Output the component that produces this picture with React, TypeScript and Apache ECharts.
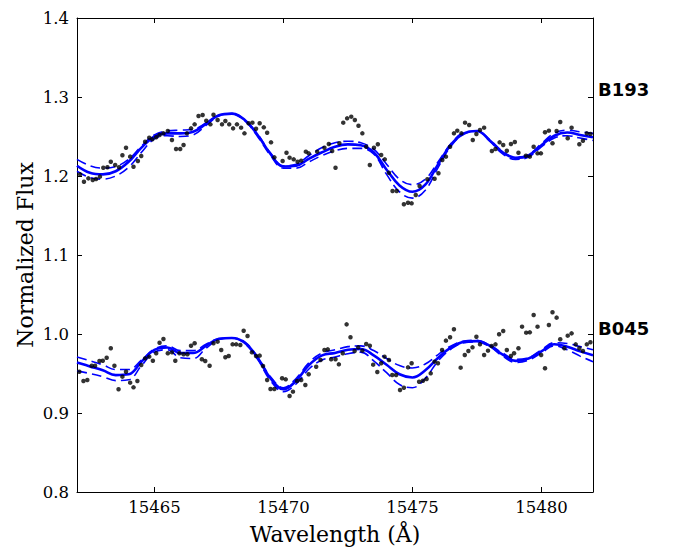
import React, { useEffect, useRef } from "react";
import * as echarts from "echarts";

// Wavelength grid of the model curves (Å)
const modelWave = [
  15462.0, 15462.5, 15463.0, 15463.5, 15464.0, 15464.5, 15465.0, 15465.5, 15466.0, 15466.5,
  15467.0, 15467.5, 15468.0, 15468.5, 15469.0, 15469.5, 15470.0, 15470.5, 15471.0, 15471.5,
  15472.0, 15472.5, 15473.0, 15473.5, 15474.0, 15474.5, 15475.0, 15475.5, 15476.0, 15476.5,
  15477.0, 15477.5, 15478.0, 15478.5, 15479.0, 15479.5, 15480.0, 15480.5, 15481.0, 15481.5,
  15482.0,
];

// B193 models
const b193Best = [
  1.213, 1.204, 1.202, 1.206, 1.218, 1.236, 1.25, 1.254, 1.254, 1.256,
  1.266, 1.277, 1.279, 1.271, 1.252, 1.228, 1.212, 1.213, 1.222, 1.23,
  1.237, 1.24, 1.239, 1.23, 1.208, 1.188, 1.18, 1.189, 1.215, 1.24,
  1.254, 1.257, 1.245, 1.23, 1.223, 1.226, 1.239, 1.251, 1.255, 1.252,
  1.249,
];
const b193Shallow = [
  1.221, 1.213, 1.21, 1.212, 1.221, 1.238, 1.252, 1.257, 1.258, 1.259,
  1.267, 1.277, 1.279, 1.271, 1.253, 1.229, 1.213, 1.215, 1.226, 1.236,
  1.242, 1.244, 1.242, 1.234, 1.215, 1.196, 1.189, 1.196, 1.218, 1.241,
  1.255, 1.257, 1.246, 1.231, 1.224, 1.227, 1.241, 1.254, 1.258, 1.256,
  1.254,
];
const b193Deep = [
  1.206, 1.198, 1.196, 1.2, 1.211, 1.23, 1.247, 1.251, 1.25, 1.252,
  1.264, 1.276, 1.279, 1.27, 1.25, 1.226, 1.21, 1.21, 1.218, 1.226,
  1.232, 1.235, 1.235, 1.228, 1.202, 1.18, 1.172, 1.182, 1.211, 1.238,
  1.253, 1.257, 1.244, 1.228, 1.221, 1.224, 1.237, 1.248, 1.251, 1.248,
  1.245,
];

// B045 models
const b045Best = [
  0.964, 0.959, 0.954, 0.948, 0.949, 0.965, 0.98, 0.983, 0.976, 0.976,
  0.985, 0.994, 0.995, 0.989, 0.97, 0.944, 0.93, 0.941, 0.961, 0.973,
  0.976, 0.98, 0.981, 0.973, 0.961, 0.949, 0.945, 0.954, 0.97, 0.983,
  0.99, 0.991, 0.985, 0.974, 0.966, 0.969, 0.978, 0.987, 0.984, 0.978,
  0.973,
];
const b045Shallow = [
  0.971, 0.966, 0.961, 0.955, 0.955, 0.967, 0.981, 0.985, 0.979, 0.979,
  0.987, 0.994, 0.995, 0.99, 0.971, 0.946, 0.932, 0.944, 0.964, 0.976,
  0.98, 0.984, 0.985, 0.979, 0.969, 0.96, 0.957, 0.962, 0.974, 0.985,
  0.991, 0.992, 0.986, 0.976, 0.968, 0.97, 0.98, 0.989, 0.988, 0.984,
  0.98,
];
const b045Deep = [
  0.953, 0.95, 0.946, 0.941, 0.942, 0.96, 0.977, 0.98, 0.97, 0.969,
  0.982, 0.993, 0.995, 0.988, 0.968, 0.941, 0.927, 0.937, 0.956, 0.967,
  0.971, 0.975, 0.977, 0.966, 0.951, 0.936, 0.932, 0.944, 0.966, 0.981,
  0.989, 0.99, 0.984, 0.972, 0.964, 0.967, 0.976, 0.985, 0.98, 0.972,
  0.965,
];

// Observed spectra: [wavelength, flux]
const b193Obs: [number, number][] = [
  [15462.12, 1.2021], [15462.27, 1.1928], [15462.44, 1.197], [15462.61, 1.195], [15462.74, 1.1962],
  [15462.89, 1.1992], [15463.02, 1.2105], [15463.18, 1.211], [15463.31, 1.2181], [15463.48, 1.2139],
  [15463.63, 1.211], [15463.76, 1.2262], [15463.9, 1.2358], [15464.06, 1.2245], [15464.19, 1.2118],
  [15464.36, 1.219], [15464.49, 1.2253], [15464.64, 1.2434], [15464.8, 1.2485], [15464.92, 1.2464],
  [15465.07, 1.249], [15465.2, 1.2519], [15465.35, 1.254], [15465.52, 1.257], [15465.68, 1.2456],
  [15465.84, 1.2342], [15466.0, 1.2342], [15466.13, 1.2392], [15466.26, 1.254], [15466.42, 1.2603],
  [15466.56, 1.2654], [15466.71, 1.2759], [15466.87, 1.2772], [15467.01, 1.27], [15467.17, 1.2654],
  [15467.29, 1.2776], [15467.45, 1.2709], [15467.62, 1.2654], [15467.75, 1.2696], [15467.9, 1.2654],
  [15468.05, 1.2603], [15468.2, 1.2654], [15468.36, 1.2612], [15468.49, 1.254], [15468.65, 1.2667],
  [15468.8, 1.2675], [15468.94, 1.2599], [15469.08, 1.2667], [15469.24, 1.2616], [15469.37, 1.2548],
  [15469.52, 1.2426], [15469.65, 1.2236], [15469.97, 1.219], [15470.12, 1.2295], [15470.24, 1.2232],
  [15470.4, 1.2211], [15470.55, 1.2181], [15470.69, 1.2194], [15470.87, 1.2308], [15470.98, 1.2287],
  [15471.31, 1.2308], [15471.59, 1.2358], [15471.76, 1.2405], [15471.89, 1.2316], [15472.02, 1.2105],
  [15472.17, 1.2414], [15472.32, 1.2675], [15472.47, 1.273], [15472.63, 1.2751], [15472.77, 1.2709],
  [15472.91, 1.2637], [15473.06, 1.254], [15473.21, 1.2371], [15473.35, 1.2139], [15473.51, 1.2358],
  [15473.66, 1.2401], [15473.79, 1.2266], [15473.93, 1.2211], [15474.09, 1.2042], [15474.23, 1.181],
  [15474.39, 1.181], [15474.67, 1.1642], [15474.83, 1.1662], [15474.97, 1.1654], [15475.13, 1.176],
  [15475.28, 1.1873], [15475.58, 1.1958], [15475.86, 1.1966], [15476.01, 1.2034], [15476.16, 1.2203],
  [15476.3, 1.2245], [15476.46, 1.2371], [15476.61, 1.254], [15476.74, 1.2574], [15476.9, 1.254],
  [15477.04, 1.2675], [15477.2, 1.2646], [15477.34, 1.2456], [15477.48, 1.2532], [15477.62, 1.2582],
  [15477.78, 1.2612], [15478.08, 1.2316], [15478.22, 1.2342], [15478.38, 1.2426], [15478.52, 1.2392],
  [15478.66, 1.232], [15478.82, 1.2405], [15478.97, 1.243], [15479.11, 1.2295], [15479.4, 1.2257],
  [15479.55, 1.2245], [15479.7, 1.2371], [15479.85, 1.2287], [15479.98, 1.2287], [15480.14, 1.2553],
  [15480.29, 1.2574], [15480.43, 1.2414], [15480.59, 1.257], [15480.73, 1.2684], [15481.02, 1.2477],
  [15481.17, 1.2612], [15481.47, 1.2401], [15481.61, 1.2447], [15481.76, 1.254], [15481.9, 1.2532],
];

const b045Obs: [number, number][] = [
  [15462.09, 0.9523], [15462.25, 0.9405], [15462.4, 0.9418], [15462.57, 0.9599], [15462.7, 0.9599],
  [15462.87, 0.9658], [15463.0, 0.9662], [15463.15, 0.97], [15463.31, 0.9819], [15463.45, 0.9599],
  [15463.61, 0.93], [15463.76, 0.946], [15463.9, 0.9523], [15464.06, 0.9384], [15464.19, 0.9325],
  [15464.34, 0.9405], [15464.49, 0.9608], [15464.64, 0.9692], [15464.8, 0.9713], [15464.94, 0.9662],
  [15465.07, 0.9756], [15465.2, 0.989], [15465.35, 0.9937], [15465.52, 0.9756], [15465.68, 0.9768],
  [15465.81, 0.9662], [15465.97, 0.9756], [15466.13, 0.9743], [15466.28, 0.9743], [15466.42, 0.9852],
  [15466.56, 0.9882], [15466.84, 0.968], [15466.97, 0.9658], [15467.14, 0.9599], [15467.29, 0.9882],
  [15467.45, 0.9903], [15467.59, 0.9797], [15467.75, 0.9705], [15467.88, 0.9722], [15468.03, 0.9869],
  [15468.17, 0.9869], [15468.33, 0.9861], [15468.46, 1.0042], [15468.61, 0.9975], [15468.78, 0.9768],
  [15468.94, 0.9722], [15469.08, 0.9726], [15469.21, 0.9595], [15469.37, 0.9418], [15469.5, 0.9304],
  [15469.65, 0.9304], [15469.95, 0.9439], [15470.09, 0.9426], [15470.24, 0.9215], [15470.37, 0.927],
  [15470.53, 0.9405], [15470.69, 0.9418], [15470.85, 0.9354], [15470.98, 0.949], [15471.27, 0.9586],
  [15471.44, 0.9671], [15471.59, 0.9797], [15471.72, 0.9806], [15471.85, 0.968], [15472.02, 0.968],
  [15472.15, 0.9616], [15472.3, 0.9756], [15472.45, 1.0122], [15472.6, 0.9958], [15472.76, 0.9785],
  [15472.9, 0.9831], [15473.06, 0.9789], [15473.21, 0.9873], [15473.35, 0.9852], [15473.48, 0.9612],
  [15473.64, 0.9519], [15473.79, 0.9629], [15473.92, 0.9713], [15474.09, 0.9671], [15474.22, 0.9481],
  [15474.37, 0.9481], [15474.52, 0.9291], [15474.67, 0.932], [15474.83, 0.9578], [15474.97, 0.9629],
  [15475.26, 0.9396], [15475.41, 0.9409], [15475.55, 0.943], [15475.71, 0.9502], [15475.86, 0.965],
  [15475.99, 0.9629], [15476.15, 0.9797], [15476.3, 0.9916], [15476.46, 0.9958], [15476.61, 1.006],
  [15476.87, 0.9574], [15477.03, 0.9734], [15477.17, 0.9785], [15477.33, 0.9831], [15477.48, 0.9966],
  [15477.62, 0.9869], [15477.78, 0.9734], [15477.93, 0.9789], [15478.07, 0.9848], [15478.22, 0.9869],
  [15478.36, 0.9996], [15478.52, 1.0038], [15478.66, 0.9797], [15478.82, 0.9722], [15478.94, 0.9756],
  [15479.11, 0.9819], [15479.25, 1.0093], [15479.41, 1.0017], [15479.55, 1.0021], [15479.7, 1.0241],
  [15479.85, 1.0093], [15479.99, 0.9734], [15480.14, 0.9566], [15480.29, 1.0114], [15480.43, 1.0275],
  [15480.59, 1.0207], [15480.73, 0.9933], [15480.89, 0.9819], [15481.02, 0.9979], [15481.17, 1.0008],
  [15481.33, 0.9869], [15481.47, 0.9819], [15481.61, 0.9785], [15481.76, 0.9869], [15481.9, 0.9895],
];

const xTicks = [15465, 15470, 15475, 15480];
const starLabels = ["B193", "B045"];

const SERIF = "DejaVu Serif";
const BLUE = "#0000ff";

function zip(xs: number[], ys: number[]) {
  return xs.map((x, i) => [x, ys[i]]);
}

export default function App() {
  const ref = useRef<HTMLDivElement>(null);

  useEffect(() => {
    if (!ref.current) return;
    const chart = echarts.init(ref.current, undefined, { renderer: "svg" });

    const solid = (data: number[]) => ({
      type: "line",
      data: zip(modelWave, data),
      smooth: 0.4,
      showSymbol: false,
      symbol: "none",
      lineStyle: { color: BLUE, width: 2.6 },
      z: 4,
    });
    const dashed = (data: number[]) => ({
      type: "line",
      data: zip(modelWave, data),
      smooth: 0.4,
      showSymbol: false,
      symbol: "none",
      lineStyle: { color: BLUE, width: 1.6, type: [10, 5] },
      z: 3,
    });
    const dots = (data: [number, number][]) => ({
      type: "scatter",
      data,
      symbol: "circle",
      symbolSize: 4.5,
      itemStyle: { color: "#000" },
      z: 5,
    });

    const axisLine = { show: true, lineStyle: { color: "#000", width: 1 } };

    chart.setOption({
      animation: false,
      backgroundColor: "#fff",
      grid: { left: 77, right: 80, top: 18, bottom: 55, outerBoundsMode: "none" },
      xAxis: [
        {
          type: "value",
          min: 15462,
          max: 15482,
          position: "bottom",
          axisLine,
          splitLine: { show: false },
          axisTick: { show: true, inside: true, length: 5, customValues: xTicks, lineStyle: { color: "#000" } },
          axisLabel: {
            customValues: xTicks,
            fontFamily: SERIF,
            fontSize: 16.5,
            color: "#000",
            margin: 7,
            formatter: (v: number) => String(v),
          },
          name: "Wavelength (Å)",
          nameLocation: "middle",
          nameGap: 31,
          nameMoveOverlap: false,
          nameTextStyle: { fontFamily: SERIF, fontSize: 22, color: "#000" },
        },
        {
          type: "value",
          min: 15462,
          max: 15482,
          position: "top",
          axisLine,
          splitLine: { show: false },
          axisTick: { show: true, inside: true, length: 5, customValues: xTicks, lineStyle: { color: "#000" } },
          axisLabel: { show: false },
        },
      ],
      yAxis: [
        {
          type: "value",
          min: 0.8,
          max: 1.4,
          interval: 0.1,
          position: "left",
          axisLine,
          splitLine: { show: false },
          axisTick: { show: true, inside: true, length: 5, lineStyle: { color: "#000" } },
          axisLabel: {
            fontFamily: SERIF,
            fontSize: 16.5,
            color: "#000",
            margin: 8,
            formatter: (v: number) => v.toFixed(1),
          },
          name: "Normalized Flux",
          nameLocation: "middle",
          nameGap: 41,
          nameMoveOverlap: false,
          nameTextStyle: { fontFamily: SERIF, fontSize: 22, color: "#000" },
        },
        {
          type: "value",
          min: 0.8,
          max: 1.4,
          interval: 0.1,
          position: "right",
          axisLine,
          splitLine: { show: false },
          axisTick: { show: true, inside: true, length: 5, lineStyle: { color: "#000" } },
          axisLabel: { show: false },
        },
      ],
      series: [
        dots(b193Obs),
        dots(b045Obs),
        dashed(b193Shallow),
        dashed(b193Deep),
        solid(b193Best),
        dashed(b045Shallow),
        dashed(b045Deep),
        solid(b045Best),
      ],
      graphic: [
        {
          type: "text",
          left: 598,
          top: 80,
          style: { text: starLabels[0], fontFamily: "DejaVu Sans", fontWeight: "bold", fontSize: 18, fill: "#000" },
        },
        {
          type: "text",
          left: 598,
          top: 319,
          style: { text: starLabels[1], fontFamily: "DejaVu Sans", fontWeight: "bold", fontSize: 18, fill: "#000" },
        },
      ],
    });

    return () => chart.dispose();
  }, []);

  return (
    <div
      ref={ref}
      style={{ position: "absolute", left: 0, top: 0, width: 673, height: 547, background: "#fff" }}
    />
  );
}
